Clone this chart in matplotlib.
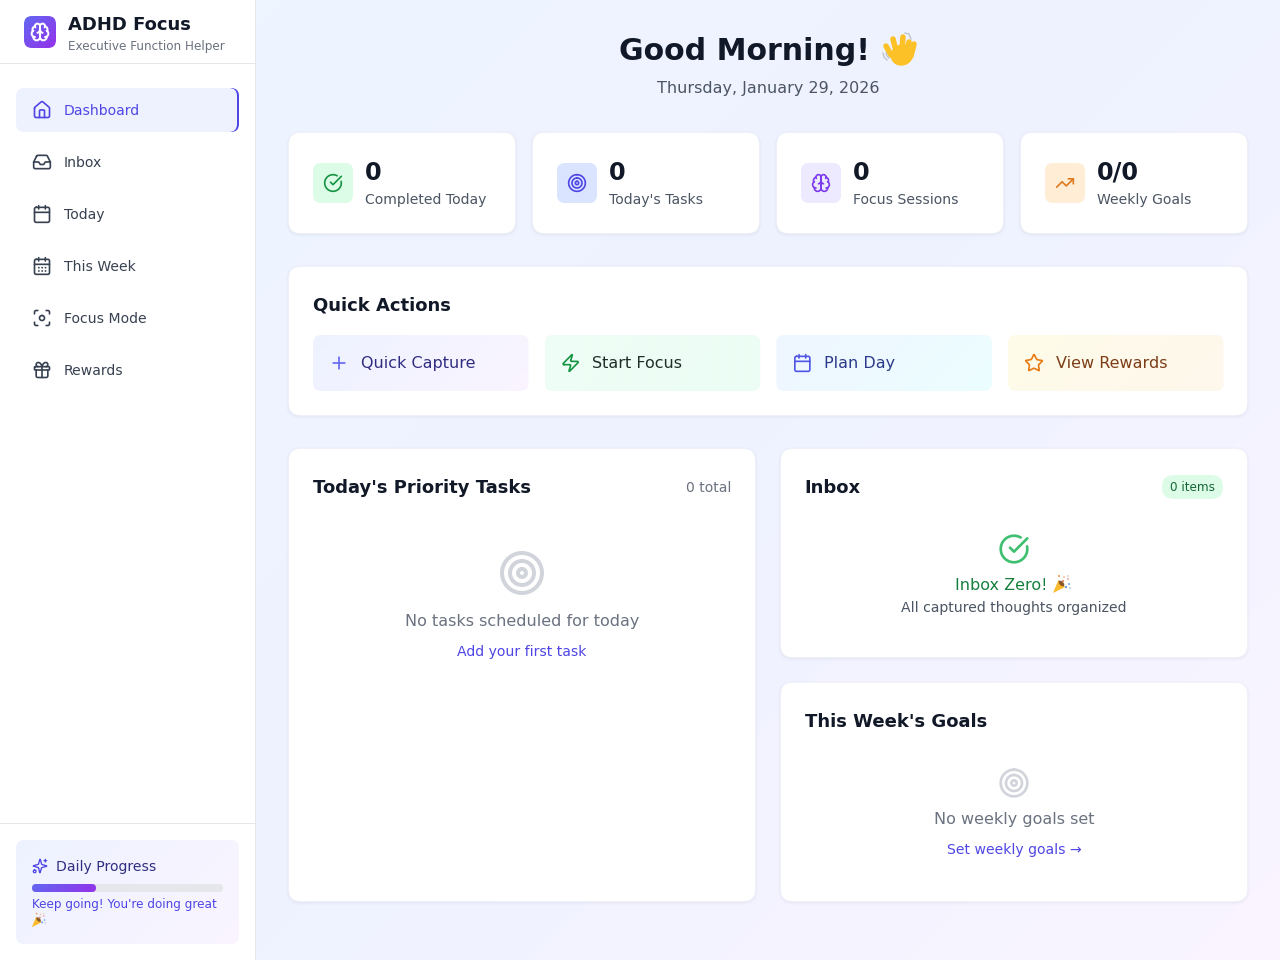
import math
import re

import matplotlib
matplotlib.use('Agg')
import matplotlib.pyplot as plt
from matplotlib.colors import to_rgb
from matplotlib.patches import FancyBboxPatch, Polygon, Ellipse
import numpy as np

plt.rcParams['font.family'] = ['DejaVu Sans']

# content
nav_labels = ['Dashboard', 'Inbox', 'Today', 'This Week', 'Focus Mode', 'Rewards']
nav_icons = ['house', 'inbox', 'calendar', 'calendar_days', 'scan', 'gift']
stat_values = ['0', '0', '0', '0/0']
stat_labels = ['Completed Today', "Today's Tasks", 'Focus Sessions', 'Weekly Goals']
stat_icons = ['check', 'target', 'brain', 'trending']
stat_bg = ['#dcfce7', '#dbe4ff', '#ede9fe', '#ffedd5']
stat_fg = ['#169443', '#4f46e5', '#7c3aed', '#dd7a1f']
action_labels = ['Quick Capture', 'Start Focus', 'Plan Day', 'View Rewards']
action_icons = ['plus', 'zap', 'calendar', 'star']
action_fg = ['#6366f1', '#169443', '#4f56e5', '#ea7a12']
action_text = ['#312e81', '#1f2f2a', '#2b3a8a', '#7c3d16']
action_from = ['#eef2ff', '#effdf5', '#eff6ff', '#fefce8']
action_to = ['#faf5ff', '#ecfdf5', '#ecfeff', '#fff7ed']
progress_share = 0.335

# lucide outlines, 24 unit grid
ICONS = {
    'house': 'M15 21v-8a1 1 0 0 0-1-1h-4a1 1 0 0 0-1 1v8 M3 10a2 2 0 0 1 .709-1.528l7-5.999a2 2 0 0 1 2.582 0l7 5.999A2 2 0 0 1 21 10v9a2 2 0 0 1-2 2H5a2 2 0 0 1-2-2z',
    'inbox': 'M22 12H16L14 15H10L8 12H2 M5.45 5.11 2 12v6a2 2 0 0 0 2 2h16a2 2 0 0 0 2-2v-6l-3.45-6.89A2 2 0 0 0 16.76 4H7.24a2 2 0 0 0-1.79 1.11z',
    'calendar': 'M8 2v4 M16 2v4 M5 4H19a2 2 0 0 1 2 2V20a2 2 0 0 1-2 2H5a2 2 0 0 1-2-2V6a2 2 0 0 1 2-2z M3 10h18',
    'calendar_days': 'M8 2v4 M16 2v4 M5 4H19a2 2 0 0 1 2 2V20a2 2 0 0 1-2 2H5a2 2 0 0 1-2-2V6a2 2 0 0 1 2-2z M3 10h18 M8 14h.4 M12 14h.4 M16 14h.4 M8 18h.4 M12 18h.4 M16 18h.4',
    'scan': 'M3 7V5a2 2 0 0 1 2-2h2 M17 3h2a2 2 0 0 1 2 2v2 M21 17v2a2 2 0 0 1-2 2h-2 M7 21H5a2 2 0 0 1-2-2v-2 M12 9a3 3 0 1 0 0 6a3 3 0 1 0 0-6z',
    'gift': 'M4 8H20a1 1 0 0 1 1 1V11a1 1 0 0 1-1 1H4a1 1 0 0 1-1-1V9a1 1 0 0 1 1-1z M12 8v13 M19 12v7a2 2 0 0 1-2 2H7a2 2 0 0 1-2-2v-7 M7.5 8a2.5 2.5 0 0 1 0-5A4.8 8 0 0 1 12 8a4.8 8 0 0 1 4.5-5 2.5 2.5 0 0 1 0 5',
    'sparkles': 'M9.937 15.5A2 2 0 0 0 8.5 14.063l-6.135-1.582a.5.5 0 0 1 0-.962L8.5 9.936A2 2 0 0 0 9.937 8.5l1.582-6.135a.5.5 0 0 1 .963 0L14.063 8.5A2 2 0 0 0 15.5 9.937l6.135 1.581a.5.5 0 0 1 0 .964L15.5 14.063a2 2 0 0 0-1.437 1.437l-1.582 6.135a.5.5 0 0 1-.963 0z M20 2v4 M22 4h-4 M4 18a2 2 0 1 0 0 4a2 2 0 1 0 0-4z',
    'plus': 'M5 12h14 M12 5v14',
    'zap': 'M4 14a1 1 0 0 1-.78-1.63l9.9-10.2a.5.5 0 0 1 .86.46l-1.92 6.02A1 1 0 0 0 13 10h7a1 1 0 0 1 .78 1.63l-9.9 10.2a.5.5 0 0 1-.86-.46l1.92-6.02A1 1 0 0 0 11 14z',
    'star': 'M11.525 2.295a.53.53 0 0 1 .95 0l2.31 4.679a2.123 2.123 0 0 0 1.595 1.16l5.166.756a.53.53 0 0 1 .294.904l-3.736 3.638a2.123 2.123 0 0 0-.611 1.878l.882 5.14a.53.53 0 0 1-.771.56l-4.618-2.428a2.122 2.122 0 0 0-1.973 0L6.396 21.01a.53.53 0 0 1-.77-.56l.881-5.139a2.122 2.122 0 0 0-.611-1.879L2.16 9.795a.53.53 0 0 1 .294-.906l5.165-.755a2.122 2.122 0 0 0 1.597-1.16z',
    'trending': 'M22 7 13.5 15.5 8.5 10.5 2 17 M16 7h6v6',
    'target': 'M12 2a10 10 0 1 0 0 20a10 10 0 1 0 0-20z M12 6a6 6 0 1 0 0 12a6 6 0 1 0 0-12z M12 10a2 2 0 1 0 0 4a2 2 0 1 0 0-4z',
    'check': 'M21.801 10A10 10 0 1 1 17 3.335 M9 11l3 3L22 4',
    'brain': 'M12 5a3 3 0 1 0-5.997.125 4 4 0 0 0-2.526 5.77 4 4 0 0 0 .556 6.588A4 4 0 1 0 12 18Z M12 5a3 3 0 1 1 5.997.125 4 4 0 0 1 2.526 5.77 4 4 0 0 1-.556 6.588A4 4 0 1 1 12 18Z M15 13a4.5 4.5 0 0 1-3-4 4.5 4.5 0 0 1-3 4 M12 5v13 M17.599 6.5a3 3 0 0 0 .399-1.375 M6.003 5.125A3 3 0 0 0 6.401 6.5 M3.477 10.896a4 4 0 0 1 .585-.396 M19.938 10.5a4 4 0 0 1 .585.396 M6 18a4 4 0 0 1-1.967-.516 M19.967 17.484A4 4 0 0 1 18 18',
}


def arc_points(p0, rx, ry, large, sweep, p1):
    dx, dy = (p0[0] - p1[0]) / 2, (p0[1] - p1[1]) / 2
    lam = dx ** 2 / rx ** 2 + dy ** 2 / ry ** 2
    if lam > 1:
        rx, ry = rx * math.sqrt(lam), ry * math.sqrt(lam)
    top = rx ** 2 * ry ** 2 - rx ** 2 * dy ** 2 - ry ** 2 * dx ** 2
    bot = rx ** 2 * dy ** 2 + ry ** 2 * dx ** 2
    k = math.sqrt(max(0, top / bot)) if bot else 0
    if large == sweep:
        k = -k
    cxp, cyp = k * rx * dy / ry, -k * ry * dx / rx
    cx, cy = cxp + (p0[0] + p1[0]) / 2, cyp + (p0[1] + p1[1]) / 2
    a1 = math.atan2((dy - cyp) / ry, (dx - cxp) / rx)
    a2 = math.atan2((-dy - cyp) / ry, (-dx - cxp) / rx)
    da = a2 - a1
    if sweep and da < 0:
        da += 2 * math.pi
    if not sweep and da > 0:
        da -= 2 * math.pi
    ts = np.linspace(0, 1, 24)[1:]
    return [(cx + rx * math.cos(a1 + da * t), cy + ry * math.sin(a1 + da * t)) for t in ts]


def parse_icon(d):
    subs = []
    cur = []
    x, y = 0, 0
    for cmd, args in re.findall(r'([MmLlHhVvAaZz])([^MmLlHhVvAaZz]*)', d):
        nums = [float(v) for v in re.findall(r'[-+]?(?:\d*\.\d+|\d+\.?)', args)]
        low = cmd.lower()
        rel = cmd == low
        if low == 'z':
            cur.append(cur[0])
            x, y = cur[0]
        elif low == 'm':
            if cur:
                subs.append(cur)
            x, y = (x + nums[0], y + nums[1]) if rel else (nums[0], nums[1])
            cur = [(x, y)]
            for i in range(2, len(nums), 2):
                x, y = (x + nums[i], y + nums[i + 1]) if rel else (nums[i], nums[i + 1])
                cur.append((x, y))
        elif low == 'l':
            for i in range(0, len(nums), 2):
                x, y = (x + nums[i], y + nums[i + 1]) if rel else (nums[i], nums[i + 1])
                cur.append((x, y))
        elif low == 'h':
            for n in nums:
                x = x + n if rel else n
                cur.append((x, y))
        elif low == 'v':
            for n in nums:
                y = y + n if rel else n
                cur.append((x, y))
        elif low == 'a':
            for i in range(0, len(nums), 7):
                rx, ry, _, large, sweep, ex, ey = nums[i:i + 7]
                end = (x + ex, y + ey) if rel else (ex, ey)
                cur.extend(arc_points((x, y), rx, ry, int(large), int(sweep), end))
                x, y = end
    if cur:
        subs.append(cur)
    return subs


fig = plt.figure(figsize=(12.8, 9.6), dpi=100)
ax = fig.add_axes([0, 0, 1, 1])
ax.axis('off')


def gradient(x0, y0, x1, y1, stops, clip=None, z=1):
    w, h = x1 - x0, y1 - y0
    nx, ny = max(int(w / 2), 2), max(int(h / 2), 2)
    xx, yy = np.meshgrid(np.linspace(0, w, nx), np.linspace(0, h, ny))
    t = (xx + yy) / (w + h)
    pos = np.linspace(0, 1, len(stops))
    rgb = np.array([to_rgb(c) for c in stops])
    img = np.dstack([np.interp(t, pos, rgb[:, i]) for i in range(3)])
    im = ax.imshow(img, extent=(x0, x1, y1, y0), aspect='auto', interpolation='bilinear', zorder=z)
    if clip is not None:
        im.set_clip_path(clip)
    return im


def box(x0, y0, x1, y1, r, color, z=2, alpha=None, lw=0, ec='none'):
    p = FancyBboxPatch((x0, y0), x1 - x0, y1 - y0, boxstyle='round,pad=0,rounding_size=%s' % r,
                       fc=color, ec=ec, lw=lw, alpha=alpha, zorder=z)
    ax.add_patch(p)
    return p


def grad_box(x0, y0, x1, y1, r, stops, z=3):
    p = box(x0, y0, x1, y1, r, 'none', z=z)
    gradient(x0, y0, x1, y1, stops, clip=p, z=z)


def card(x0, y0, x1, y1):
    for i in [3, 2, 1]:
        box(x0 - i, y0 - i + 1, x1 + i, y1 + i + 1, 12 + i, '#1f2937', z=2, alpha=0.012)
    box(x0 - 0.5, y0 - 0.5, x1 + 0.5, y1 + 0.5, 12, '#f6f7fa', z=2)
    box(x0, y0, x1, y1, 12, 'white', z=2)


def label(x, yc, s, px, color, ha='left', weight='normal', z=6):
    ax.text(x, yc + px * 0.36, s, fontsize=px * 0.72, color=color, ha=ha, va='baseline',
            fontweight=weight, zorder=z)


def icon(name, cx, cy, size, color, lw=2.0, z=6):
    scale = size / 24
    for sub in parse_icon(ICONS[name]):
        pts = np.array(sub)
        ax.plot(cx + (pts[:, 0] - 12) * scale, cy + (pts[:, 1] - 12) * scale, color=color,
                lw=lw * 0.72, solid_capstyle='round', solid_joinstyle='round', zorder=z, snap=False)


def popper(cx, cy, s=1.0):
    # party popper drawn by hand, no colour emoji font here
    ax.add_patch(Polygon([(cx - 9 * s, cy + 9 * s), (cx - 3.5 * s, cy - 4 * s), (cx + 3 * s, cy + 3 * s)],
                         fc='#fbb92c', ec='none', zorder=6))
    ax.add_patch(Ellipse((cx - 0.5 * s, cy - 0.5 * s), 7 * s, 4 * s, angle=45, fc='#8a5a2b', ec='none', zorder=6))
    bits = [(2, -7, '#f4c7a1'), (6, -5, '#e8b6b0'), (-3, -8, '#e9a15f'), (7, 0, '#7fb2f0'),
            (4, 3, '#5c90e8'), (8, 4, '#c9d8ef'), (1, -3, '#d98c5f'), (6, -8, '#f2d9c7')]
    for dx, dy, c in bits:
        ax.add_patch(Ellipse((cx + dx * s, cy + dy * s), 2.2 * s, 2.2 * s, fc=c, ec='none', zorder=6))


def wave(cx, cy):
    # waving hand drawn by hand as well
    yellow = '#fdc128'
    ax.add_patch(Ellipse((cx + 3, cy + 6), 23, 21, angle=-25, fc=yellow, ec='none', zorder=6))
    fingers = [(-8, 6, -13, -3), (-3, 2, -6, -10), (3, 0, 4, -12), (8, 2, 10, -7), (12, 7, 15, -5)]
    for x0, y0, x1, y1 in fingers:
        ax.plot([cx + x0, cx + x1], [cy + y0, cy + y1], color=yellow, lw=4.0,
                solid_capstyle='round', zorder=6)
    ax.plot([cx - 16, cx - 15, cx - 12], [cy + 4, cy + 8, cy + 11], color='#b9c0c8', lw=0.9, zorder=6)
    ax.plot([cx - 13, cx - 12, cx - 10], [cy + 4, cy + 7, cy + 9], color='#b9c0c8', lw=0.9, zorder=6)
    ax.plot([cx + 6, cx + 10, cx + 12], [cy - 16, cy - 15, cy - 10], color='#b9c0c8', lw=0.9, zorder=6)


# page + sidebar
gradient(0, 0, 1280, 960, ['#eff6ff', '#eef2ff', '#faf5ff'], z=0)
ax.fill_between([0, 255], 0, 960, color='white', lw=0, zorder=1)
ax.plot([255.5, 255.5], [0, 960], color='#e5e7eb', lw=0.72, zorder=2, snap=False)
ax.plot([0, 255], [63.5, 63.5], color='#e5e7eb', lw=0.72, zorder=2, snap=False)
ax.plot([0, 255], [823.5, 823.5], color='#e5e7eb', lw=0.72, zorder=2, snap=False)

grad_box(24, 16, 56, 48, 8, ['#6366f1', '#9333ea'])
icon('brain', 40, 32, 20, 'white', 2.0)
label(68, 24, 'ADHD Focus', 18, '#111827', weight='bold')
label(68, 46, 'Executive Function Helper', 12, '#6b7280')

for i, (name, ic) in enumerate(zip(nav_labels, nav_icons)):
    yc = 110 + 52 * i
    col = '#4f46e5' if i == 0 else '#374151'
    if i == 0:
        box(200, yc - 22, 239, yc + 22, 8, '#4f46e5', z=3)
        box(16, yc - 22, 237, yc + 22, 8, '#eef2ff', z=3)
    icon(ic, 42, yc, 20, col, 1.67)
    label(64, yc, name, 14, col)

grad_box(16, 840, 239, 944, 8, ['#eef2ff', '#faf5ff'])
icon('sparkles', 40, 866, 16, '#4f46e5', 1.33)
label(56, 866, 'Daily Progress', 14, '#312e81')
bar_x0, bar_x1 = 32, 223
box(bar_x0, 884, bar_x1, 892, 4, '#e5e7eb', z=4)
grad_box(bar_x0, 884, bar_x0 + (bar_x1 - bar_x0) * progress_share, 892, 4, ['#6366f1', '#9333ea'], z=5)
label(32, 904, "Keep going! You're doing great", 12, '#4f46e5')
popper(39, 920, 0.8)

# header
label(619, 49, 'Good Morning!', 30, '#111827', weight='bold')
wave(899, 49)
label(768, 87, 'Thursday, January 29, 2026', 16, '#4b5563', ha='center')

# stat cards
for i in range(4):
    x0 = 289 + 244 * i
    card(x0, 133, x0 + 226, 233)
    box(x0 + 24, 163, x0 + 64, 203, 8, stat_bg[i], z=3)
    icon(stat_icons[i], x0 + 44, 183, 20, stat_fg[i], 1.67)
    label(x0 + 76, 171, stat_values[i], 24, '#111827', weight='bold')
    label(x0 + 76, 199, stat_labels[i], 14, '#4b5563')

# quick actions
card(289, 267, 1247, 415)
label(313, 304, 'Quick Actions', 18, '#111827', weight='bold')
for i in range(4):
    x0 = 313 + 231.67 * i
    grad_box(x0, 335, x0 + 215.5, 391, 8, [action_from[i], action_to[i]])
    icon(action_icons[i], x0 + 26, 363, 20, action_fg[i], 1.67)
    label(x0 + 47.6, 362, action_labels[i], 16, action_text[i])

# priority tasks
card(289, 449, 755, 901)
label(313, 487, "Today's Priority Tasks", 18, '#111827', weight='bold')
label(731, 487, '0 total', 14, '#6b7280', ha='right')
icon('target', 522, 573, 48, '#d1d5db', 4.0)
label(522, 620, 'No tasks scheduled for today', 16, '#6b7280', ha='center')
label(522, 651, 'Add your first task', 14, '#4f46e5', ha='center')

# inbox
card(781, 449, 1247, 657)
label(804.5, 487, 'Inbox', 18, '#111827', weight='bold')
box(1162, 475, 1223, 499, 12, '#dcfce7', z=3)
label(1192.5, 487, '0 items', 12, '#166534', ha='center')
icon('check', 1014, 549, 32, '#3fbf70', 2.67)
label(955, 584, 'Inbox Zero!', 16, '#15803d')
popper(1062, 584, 1.0)
label(1014, 607, 'All captured thoughts organized', 14, '#4b5563', ha='center')

# goals
card(781, 683, 1247, 901)
label(805, 721, "This Week's Goals", 18, '#111827', weight='bold')
icon('target', 1014, 783, 32, '#d1d5db', 2.67)
label(1014, 818, 'No weekly goals set', 16, '#6b7280', ha='center')
label(1014, 849, 'Set weekly goals →', 14, '#4f46e5', ha='center')

ax.set_xlim(0, 1280)
ax.set_ylim(960, 0)
fig.savefig('out.png', dpi=100)
